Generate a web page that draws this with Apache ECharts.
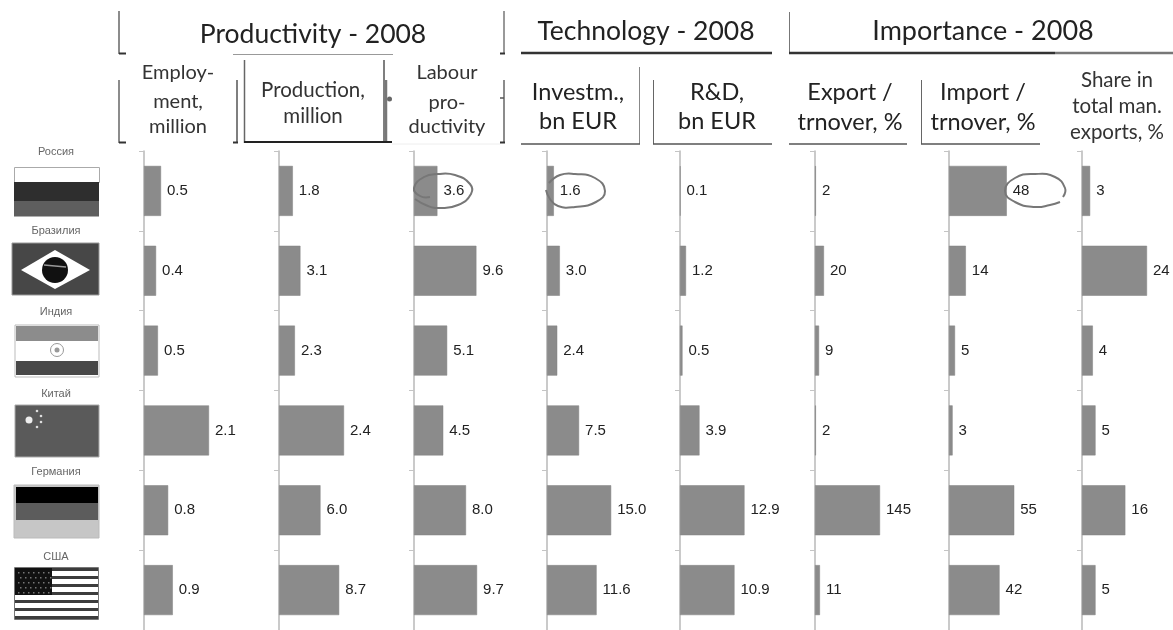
<!DOCTYPE html>
<html><head><meta charset="utf-8">
<style>html,body{margin:0;padding:0;background:#fff}#c{width:1173px;height:630px}</style>
<script src="https://cdn.jsdelivr.net/npm/echarts@6/dist/echarts.min.js"></script>
</head><body><div id="c"></div>
<script>
// ---- data ----
const countries = ['Россия','Бразилия','Индия','Китай','Германия','США'];
const employment = [0.55,0.39,0.45,2.1,0.78,0.93];
const employmentLabels = ['0.5','0.4','0.5','2.1','0.8','0.9'];
const production = [2.0,3.1,2.3,9.4,6.0,8.7];
const productionLabels = ['1.8','3.1','2.3','2.4','6.0','8.7'];
const labour = [3.6,9.6,5.1,4.5,8.0,9.7];
const labourLabels = ['3.6','9.6','5.1','4.5','8.0','9.7'];
const invest = [1.6,3.0,2.4,7.5,15.0,11.6];
const investLabels = ['1.6','3.0','2.4','7.5','15.0','11.6'];
const rnd = [0.1,1.2,0.5,3.9,12.9,10.9];
const rndLabels = ['0.1','1.2','0.5','3.9','12.9','10.9'];
const exportShare = [2,20,9,2,145,11];
const exportLabels = ['2','20','9','2','145','11'];
const importShare = [48,14,5,3,55,42];
const importLabels = ['48','14','5','3','55','42'];
const totalShare = [3,24,4,5,16,5];
const totalLabels = ['3','24','4','5','16','5'];

// ---- layout ----
const columns = [
  {v:employment,l:employmentLabels,x:144,max:2.1},
  {v:production,l:productionLabels,x:279,max:9.4},
  {v:labour,l:labourLabels,x:414,max:10},
  {v:invest,l:investLabels,x:547,max:15.2},
  {v:rnd,l:rndLabels,x:680,max:13},
  {v:exportShare,l:exportLabels,x:815,max:145},
  {v:importShare,l:importLabels,x:949,max:54},
  {v:totalShare,l:totalLabels,x:1082,max:24}
];
const FONT='Lato', NUM='"Liberation Sans"';
const g=[];
const txt=(s,x,y,size,fill,ff,extra)=>g.push({type:'text',x,y,style:Object.assign({text:s,fill:fill||'#222',font:`${size}px ${ff||FONT}`,align:'center',verticalAlign:'middle'},extra||{}),z:5});
const ln=(x1,y1,x2,y2,c,w)=>g.push({type:'line',shape:{x1,y1,x2,y2},style:{stroke:c||'#666',lineWidth:w||1},z:4});
const rc=(x,y,w,h,f,st)=>g.push({type:'rect',shape:{x,y,width:w,height:h},style:{fill:f,stroke:st||null,lineWidth:st?1:0},z:3});
const cr=(x,y,r,f,st)=>g.push({type:'circle',shape:{cx:x,cy:y,r},style:{fill:f,stroke:st||null,lineWidth:st?1:0},z:3});

// section headers
txt('Productivity - 2008',313,34,26.5);
txt('Technology - 2008',646,31,26.5);
txt('Importance - 2008',983,31,27);
[['Employ-',178,73],['ment,',178,102],['million',178,127],
 ['Labour',447,73],['pro-',447,103],['ductivity',447,127]].forEach(a=>txt(a[0],a[1],a[2],20,'#333'));
[['Production,',313,90],['million',313,116]].forEach(a=>txt(a[0],a[1],a[2],20.5,'#333'));
[['Investm.,',578,92],['bn EUR',578,121],['R&D,',717,92],['bn EUR',717,121],
 ['Export /',850,92],['trnover, %',850,122],['Import /',983,92],['trnover, %',983,122]].forEach(a=>txt(a[0],a[1],a[2],23.5,'#222'));
[['Share in',1117,80],['total man.',1117,106],['exports, %',1117,132]].forEach(a=>txt(a[0],a[1],a[2],20.5,'#333'));

// header rules
ln(119,11,119,54,'#666',1.5); ln(119,53.5,126,53.5,'#333',2);
ln(504,11,504,54,'#777',1.5); ln(500,53.5,505,53.5,'#333',2);
ln(233,54.5,393,54.5,'#999',1);
ln(119,80,119,143,'#666',1.5); ln(119,142.5,126,142.5,'#333',2);
ln(237,80,237,143,'#555',1.5); ln(233,142.5,238,142.5,'#333',2);
ln(244.5,60,244.5,143,'#666',1.5); ln(384,60,384,143,'#555',1.5);
ln(386,80,386,143,'#777',2.5); ln(244,142,392,142,'#222',2); cr(389.5,99,2.5,'#666');
ln(504,80,504,143,'#666',1.5); ln(500,142.5,505,142.5,'#333',2); ln(500,98,504,98,'#555',1.5);
ln(392,144,500,144,'#eee',1);
ln(521,53,772,53,'#333',2.5);
ln(789.5,12,789.5,53,'#777',1);
ln(789,53,1055,53,'#333',2.5); ln(1055,53,1173,53,'#777',2.5);
ln(639.5,67,639.5,144,'#888',1); ln(521,144,640,144,'#555',1.5);
ln(653.5,80,653.5,144,'#666',1); ln(653,144,772,144,'#555',1.5);
ln(789,144,907,144,'#555',1.5);
ln(921.5,80,921.5,144,'#666',1); ln(921,144,1040,144,'#555',1.5);

// country names
[152,231,312,394,472,557].forEach((y,i)=>txt(countries[i],56,y,11,'#666',NUM));

// flags
rc(14.5,167.5,85,15,'#fff','#aaa'); rc(14,182,85,19,'#2e2e2e'); rc(14,201,85,15.5,'#5e5e5e');
rc(12,243,87,52,'#474747','#999');
g.push({type:'polygon',shape:{points:[[21,270],[55,250],[90,270],[55,289]]},style:{fill:'#fff'},z:3});
cr(55,270,13,'#111'); ln(44,265,66,267,'#999',1.5);
rc(15,325,84,52,'#fff','#bbb'); rc(16,326,82,15,'#8c8c8c'); rc(16,361,82,14,'#484848');
cr(57,350,6.5,'#fff','#999'); cr(57,350,2.5,'#999');
rc(15,405,84,52,'#5a5a5a','#aaa');
cr(29,420,3.5,'#eee'); [[37,411],[41,416],[41,422],[37,427]].forEach(p=>cr(p[0],p[1],1.3,'#ddd'));
rc(14,485,85,53,'#c6c6c6','#bbb'); rc(16,487,82,16,'#000'); rc(16,503,82,17,'#5c5c5c');
rc(14.5,567.5,84,52,'#fff','#777');
[568,576,584,592,600,608,616].forEach(y=>rc(15,y,83,3,'#3c3c3c'));
rc(15,568,37,27,'#111');
[572,577,582,587,592].forEach((y,r)=>{for(let x=18+(r%2)*2;x<52;x+=5)rc(x,y,1.5,1.5,'#777');});

// hand-drawn circles
const loop=pts=>g.push({type:'polyline',shape:{points:pts,smooth:0.5},style:{stroke:'#777',lineWidth:2,fill:null},z:6});
loop([[430,197],[420,196],[414,188],[424,177],[438,174],[455,175],[470,184],[471,194],[458,205],[440,208],[428,206],[415,199]]);
loop([[549,183],[560,175],[575,174],[595,178],[605,191],[596,202],[575,207],[558,206],[550,199],[546,190]]);
loop([[1063,197],[1065,188],[1055,177],[1035,174],[1015,178],[1005,191],[1015,202],[1035,207],[1050,205],[1060,202]]);

const grids=[],xAxes=[],yAxes=[],series=[];
columns.forEach((c,i)=>{
  grids.push({left:c.x,top:151,width:65,height:480});
  xAxes.push({type:'value',gridIndex:i,min:0,max:c.max,show:false});
  yAxes.push({type:'category',gridIndex:i,inverse:true,data:countries,
    axisLine:{show:true,lineStyle:{color:'#b8b8b8',width:1.5}},
    axisTick:{show:true,length:5,lineStyle:{color:'#c4c4c4'}},
    axisLabel:{show:false},splitLine:{show:false}});
  series.push({type:'bar',xAxisIndex:i,yAxisIndex:i,data:c.v,barWidth:50,silent:true,animation:false,
    itemStyle:{color:'#8b8b8b',borderColor:'#808080',borderWidth:0.5},
    label:{show:true,position:'right',distance:6,color:'#222',fontFamily:NUM,fontSize:15,
      formatter:p=>c.l[p.dataIndex]}});
});
const chart=echarts.init(document.getElementById('c'),null,{renderer:'canvas'});
chart.setOption({animation:false,backgroundColor:'#fff',grid:grids,xAxis:xAxes,yAxis:yAxes,series,graphic:{elements:g}});
</script></body></html>
